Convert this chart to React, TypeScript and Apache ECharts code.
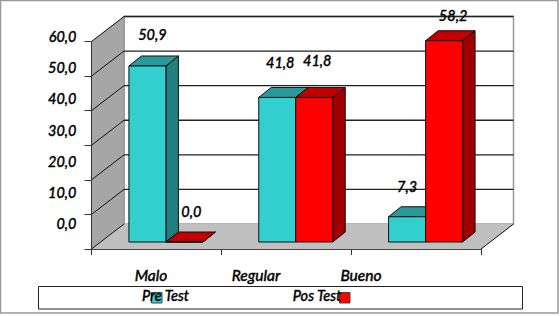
import React, { useEffect, useRef } from "react";
import * as echarts from "echarts";

const categories = ["Malo", "Regular", "Bueno"];
const preTest = [50.9, 41.8, 7.3];
const posTest = [0.0, 41.8, 58.2];
const tickValues = [0, 10, 20, 30, 40, 50, 60];
const seriesNames = ["Pre Test", "Pos Test"];

const FONT = "Lato, 'Open Sans', sans-serif";
const fmt = (v: number) => v.toFixed(1).replace(".", ",");

// 3D look
const DEPTH_X = 32.5;
const DEPTH_Y = 25;
const BAR_DX = 12.5;
const BAR_DY = 10;
const FLOOR_DX = 9.5;
const FLOOR_DY = 7;
const TEXT_BORDER = 0.35;
const labelOffsets = [
  [[5, -31], [3, -35], [0, -30]],
  [[7, -31], [3, -37], [9, -25]],
];
const palettes = [
  { front: "#33CFCF", side: "#208080", top: "#2A9999" },
  { front: "#FF0000", side: "#A00000", top: "#C00000" },
];

const frameItem = (params: any, api: any) => {
  const cs = params.coordSys;
  const y = api.coord([0, api.value(1)])[1];
  const L = cs.x, R = cs.x + cs.width, B = cs.y + cs.height, T = cs.y;
  const children: any[] = [];
  if (params.dataIndex === 0) {
    children.push(
      { type: "rect", shape: { x: L + DEPTH_X, y: T - DEPTH_Y, width: cs.width, height: cs.height }, style: { fill: "#fff", stroke: "#999", lineWidth: 1.5 } },
      { type: "polygon", shape: { points: [[L, T], [L + DEPTH_X, T - DEPTH_Y], [L + DEPTH_X, B - DEPTH_Y], [L, B]] }, style: { fill: "#A6A6A6", stroke: "#A6A6A6", lineWidth: 0.5 } },
      { type: "polygon", shape: { points: [[L, B], [L + DEPTH_X, B - DEPTH_Y], [R + DEPTH_X, B - DEPTH_Y], [R, B]] }, style: { fill: "#C0C0C0", stroke: "#C0C0C0", lineWidth: 0.5 } },
      { type: "line", shape: { x1: R, y1: B, x2: R + DEPTH_X, y2: B - DEPTH_Y }, style: { stroke: "#111", lineWidth: 1 } },
      { type: "line", shape: { x1: L + DEPTH_X, y1: B - DEPTH_Y, x2: L + DEPTH_X, y2: T - DEPTH_Y }, style: { stroke: "#999", lineWidth: 1.5 } }
    );
  }
  children.push({ type: "line", shape: { x1: L, y1: y, x2: L + DEPTH_X, y2: y - DEPTH_Y }, style: { stroke: "#111", lineWidth: 1 } });
  if (api.value(1) > 0) {
    children.push({ type: "line", shape: { x1: L + DEPTH_X, y1: y - DEPTH_Y, x2: R + DEPTH_X, y2: y - DEPTH_Y }, style: { stroke: "#222", lineWidth: 1.4 } });
  }
  return { type: "group", children };
};

const barItem = (seriesIndex: number) => (params: any, api: any) => {
  const pal = palettes[seriesIndex];
  const idx = api.value(0);
  const val = api.value(1);
  const [cx, cy] = api.coord([idx, val]);
  const [, by] = api.coord([idx, 0]);
  const w = api.size([1, 0])[0] * 0.285;
  const x0 = cx + FLOOR_DX + (seriesIndex - 1) * w;
  const x1 = x0 + w;
  const top = cy - FLOOR_DY;
  const bot = by - FLOOR_DY;
  const stroke = { stroke: "#111", lineWidth: 1, lineJoin: "round" };
  const off = labelOffsets[seriesIndex][idx];
  return {
    type: "group",
    children: [
      { type: "polygon", shape: { points: [[x1, top], [x1 + BAR_DX, top - BAR_DY], [x1 + BAR_DX, bot - BAR_DY], [x1, bot]] }, style: { fill: pal.side, ...stroke } },
      { type: "polygon", shape: { points: [[x0, top], [x0 + BAR_DX, top - BAR_DY], [x1 + BAR_DX, top - BAR_DY], [x1, top]] }, style: { fill: pal.top, ...stroke } },
      { type: "rect", shape: { x: x0, y: top, width: w, height: bot - top }, style: { fill: pal.front, ...stroke } },
      { type: "text", style: { text: fmt(val), x: (x0 + x1) / 2 + off[0], y: top + off[1], align: "center", verticalAlign: "middle", font: `italic 500 14.5px ${FONT}`, fill: "#000", stroke: "#000", lineWidth: TEXT_BORDER } },
    ],
  };
};

const legendText = (text: string, x: number) => ({
  type: "text", z: 22, x, y: 295,
  style: { text, font: `italic 500 14.5px ${FONT}`, fill: "#000", stroke: "#000", lineWidth: TEXT_BORDER, align: "center", verticalAlign: "middle" },
});
const swatch = (x: number, fill: string) => ({
  type: "rect", z: 21, shape: { x, y: 292.5, width: 10.5, height: 10.5 },
  style: { fill, stroke: "#444", lineWidth: 1 },
});

export default function App() {
  const ref = useRef<HTMLDivElement>(null);
  useEffect(() => {
    document.body.style.margin = "0";
    const chart = echarts.init(ref.current!, undefined, { renderer: "svg" });
    chart.setOption({
      animation: false,
      backgroundColor: "#fff",
      grid: [
        { left: 91.5, top: 41.5, width: 389.5, height: 207.5 },
        { left: 98.5, top: 36.5, width: 315, height: 187 },
      ],
      xAxis: [
        {
          type: "category", gridIndex: 0, data: categories, z: 3,
          axisLine: { show: true, lineStyle: { color: "#444", width: 1 } },
          axisTick: { show: true, length: 6, alignWithLabel: false, lineStyle: { color: "#333" } },
          axisLabel: { show: false },
          splitLine: { show: false },
        },
        {
          type: "category", gridIndex: 1, data: categories,
          axisLine: { show: false }, axisTick: { show: false },
          axisLabel: { show: true, margin: 43, color: "#000", fontFamily: FONT, fontSize: 15.5, fontStyle: "italic", fontWeight: 500, interval: 0, textBorderColor: "#000", textBorderWidth: TEXT_BORDER },
          splitLine: { show: false },
        },
      ],
      yAxis: [
        {
          type: "value", gridIndex: 0, min: 0, max: 60, interval: 10, z: 3,
          axisLine: { show: true, lineStyle: { color: "#333", width: 1 } },
          axisTick: { show: true, length: 7, lineStyle: { color: "#333" } },
          axisLabel: { show: false },
          splitLine: { show: false },
        },
        {
          type: "value", gridIndex: 1, min: 0, max: 60, interval: 10,
          axisLine: { show: false }, axisTick: { show: false },
          axisLabel: { show: true, margin: 22, color: "#000", fontFamily: FONT, fontSize: 14.5, fontStyle: "italic", fontWeight: 500, textBorderColor: "#000", textBorderWidth: TEXT_BORDER, formatter: (v: number) => fmt(v) },
          splitLine: { show: false },
        },
      ],
      series: [
        {
          type: "custom", name: "frame", xAxisIndex: 0, yAxisIndex: 0, z: 1, clip: false, silent: true,
          data: tickValues.map((v) => [0, v]), encode: { x: 0, y: 1 }, renderItem: frameItem,
        },
        {
          type: "custom", name: seriesNames[0], xAxisIndex: 0, yAxisIndex: 0, z: 4, clip: false,
          data: preTest.map((v, i) => [i, v]), encode: { x: 0, y: 1 }, renderItem: barItem(0),
        },
        {
          type: "custom", name: seriesNames[1], xAxisIndex: 0, yAxisIndex: 0, z: 5, clip: false,
          data: posTest.map((v, i) => [i, v]), encode: { x: 0, y: 1 }, renderItem: barItem(1),
        },
      ],
      graphic: [
        { type: "rect", z: 0, silent: true, shape: { x: 0.5, y: 0.5, width: 557.5, height: 312.5 }, style: { fill: "none", stroke: "#999", lineWidth: 1.5 } },
        { type: "rect", z: 19, shape: { x: 38.5, y: 286.5, width: 484, height: 22.5 }, style: { fill: "#fff", stroke: "#222", lineWidth: 1 } },
        swatch(151.5, palettes[0].front),
        legendText(seriesNames[0], 165.5),
        swatch(339.5, palettes[1].front),
        legendText(seriesNames[1], 317),
      ],
    });
    return () => chart.dispose();
  }, []);
  return <div ref={ref} style={{ width: 560, height: 316 }} />;
}
